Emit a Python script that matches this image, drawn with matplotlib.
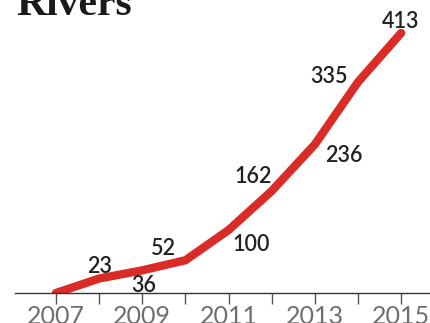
import matplotlib
matplotlib.use("Agg")
import matplotlib.pyplot as plt

years = [2007, 2008, 2009, 2010, 2011, 2012, 2013, 2014, 2015]
rivers = [0, 23, 36, 52, 100, 162, 236, 335, 413]
tick_years = [2007, 2009, 2011, 2013, 2015]
minor_years = [2008, 2010, 2012, 2014]

# label offsets (pixels) relative to each point, skip the first point
label_offsets = [None, (1, 12), (1, -15), (-22, 12), (23, -14),
                 (-19, 15), (29, -11), (-29, 6), (-1, 11)]

W, H = 430, 323
fig = plt.figure(figsize=(W / 100, H / 100), dpi=100)
ax = fig.add_axes([15 / W, 30 / H, 415 / W, 293 / H])

ax.plot(years, rivers, color="#db2b27", lw=6, solid_capstyle="round",
        solid_joinstyle="round", zorder=2)

ax.set_xlim(2006.05, 2015.67)
ax.set_ylim(0, 293 / 260 * 413)

for s in ["top", "right", "left"]:
    ax.spines[s].set_visible(False)
ax.spines["bottom"].set_color("#333333")
ax.spines["bottom"].set_linewidth(1.0)
ax.spines["bottom"].set_zorder(3)
ax.set_yticks([])
ax.set_xticks(tick_years)
ax.set_xticks(minor_years, minor=True)
ax.set_xticklabels([str(y) for y in tick_years])
ax.tick_params(axis="x", which="both", length=8, width=1, color="#555555")
ax.tick_params(axis="x", which="major", pad=1, labelsize=18,
               labelcolor="#6e6e6e")
for t in ax.get_xticklabels():
    t.set_fontfamily("Lato")
    t.set_fontweight("normal")

for x, y, off in zip(years, rivers, label_offsets):
    if off is None:
        continue
    ax.annotate(str(y), (x, y), xytext=off, textcoords="offset pixels",
                ha="center", va="center", fontsize=15.5, fontfamily="Lato",
                fontweight="semibold", color="#222222", annotation_clip=False)

fig.text(16 / W, 1 - 15 / H, "Rivers", fontsize=30, fontweight="bold",
         fontfamily="Liberation Serif", color="#1a1a1a", va="baseline", ha="left")

fig.savefig("out.png", dpi=100)
